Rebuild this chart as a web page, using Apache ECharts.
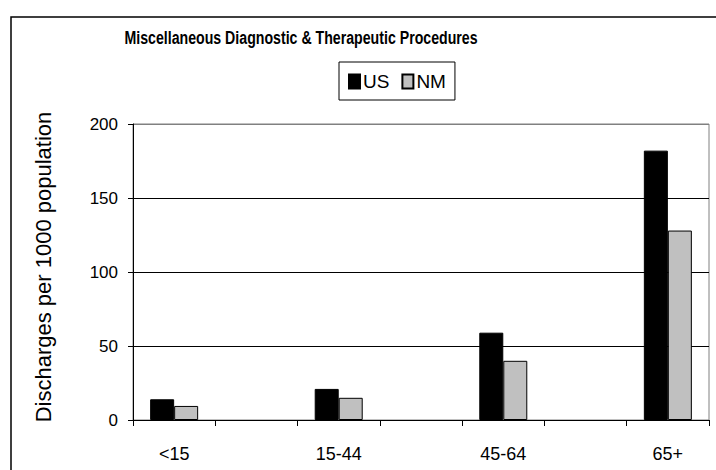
<!DOCTYPE html>
<html>
<head>
<meta charset="utf-8">
<script src="https://cdn.jsdelivr.net/npm/echarts@6/dist/echarts.min.js"></script>
<style>
html,body{margin:0;padding:0;background:#fff;}
#chart{width:716px;height:470px;}
</style>
</head>
<body>
<div id="chart"></div>
<script>
var titleText = 'Miscellaneous Diagnostic & Therapeutic Procedures';
var categories = ['<15', '', '15-44', '', '45-64', '', '65+'];
var usValues = [14, null, 21, null, 59, null, 182];
var nmValues = [9.5, null, 15, null, 40, null, 128];
var yTicks = [0, 50, 100, 150, 200];
var yName = 'Discharges per 1000 population';

var FONT = '"Liberation Sans", Arial, sans-serif';
var chart = echarts.init(document.getElementById('chart'), null, {renderer: 'svg'});
chart.setOption({
  animation: false,
  backgroundColor: '#fff',
  graphic: [
    {type: 'rect', shape: {x: 11, y: 17, width: 720, height: 470},
     style: {fill: 'none', stroke: '#000', lineWidth: 1.5}, silent: true},
    {type: 'text', x: 301, y: 38, scaleX: 0.745, scaleY: 1,
     style: {text: titleText, fontFamily: FONT, fontWeight: 'bold', fontSize: 19,
             align: 'center', verticalAlign: 'middle', fill: '#000'}},
    {type: 'text', x: 43, y: 267, rotation: Math.PI / 2,
     style: {text: yName, fontFamily: FONT, fontSize: 22,
             align: 'center', verticalAlign: 'middle', fill: '#000'}}
  ],
  legend: {
    left: 339, top: 62,
    padding: [10, 9, 9, 9],
    itemGap: 12,
    itemWidth: 11, itemHeight: 14,
    icon: 'rect',
    borderColor: '#000', borderWidth: 1,
    textStyle: {fontFamily: FONT, fontSize: 19, color: '#000', padding: [0, 0, 0, -2]},
    data: ['US', 'NM']
  },
  grid: {left: 133, top: 124, width: 576, height: 296, show: true,
         borderColor: '#808080', borderWidth: 1, backgroundColor: 'transparent'},
  xAxis: {
    type: 'category', data: categories,
    axisLine: {lineStyle: {color: '#000', width: 1}},
    axisTick: {show: true, interval: 0, length: 6, lineStyle: {color: '#000'}},
    axisLabel: {interval: 0, margin: 25, fontFamily: FONT, fontSize: 18, color: '#000'}
  },
  yAxis: {
    type: 'value', min: yTicks[0], max: yTicks[yTicks.length - 1], interval: 50,
    axisLine: {show: true, lineStyle: {color: '#000'}},
    axisTick: {show: true, length: 5, lineStyle: {color: '#000'}},
    axisLabel: {margin: 15, fontFamily: FONT, fontSize: 17, color: '#000'},
    splitLine: {show: true, lineStyle: {color: ['#000', '#000', '#000', '#000', '#808080'], width: 1}}
  },
  series: [
    {name: 'US', type: 'bar', data: usValues, barWidth: 24, barGap: '0%',
     itemStyle: {color: '#000', borderColor: '#000', borderWidth: 1}},
    {name: 'NM', type: 'bar', data: nmValues, barWidth: 24, barGap: '0%',
     itemStyle: {color: '#C0C0C0', borderColor: '#000', borderWidth: 1}}
  ]
});
</script>
</body>
</html>
